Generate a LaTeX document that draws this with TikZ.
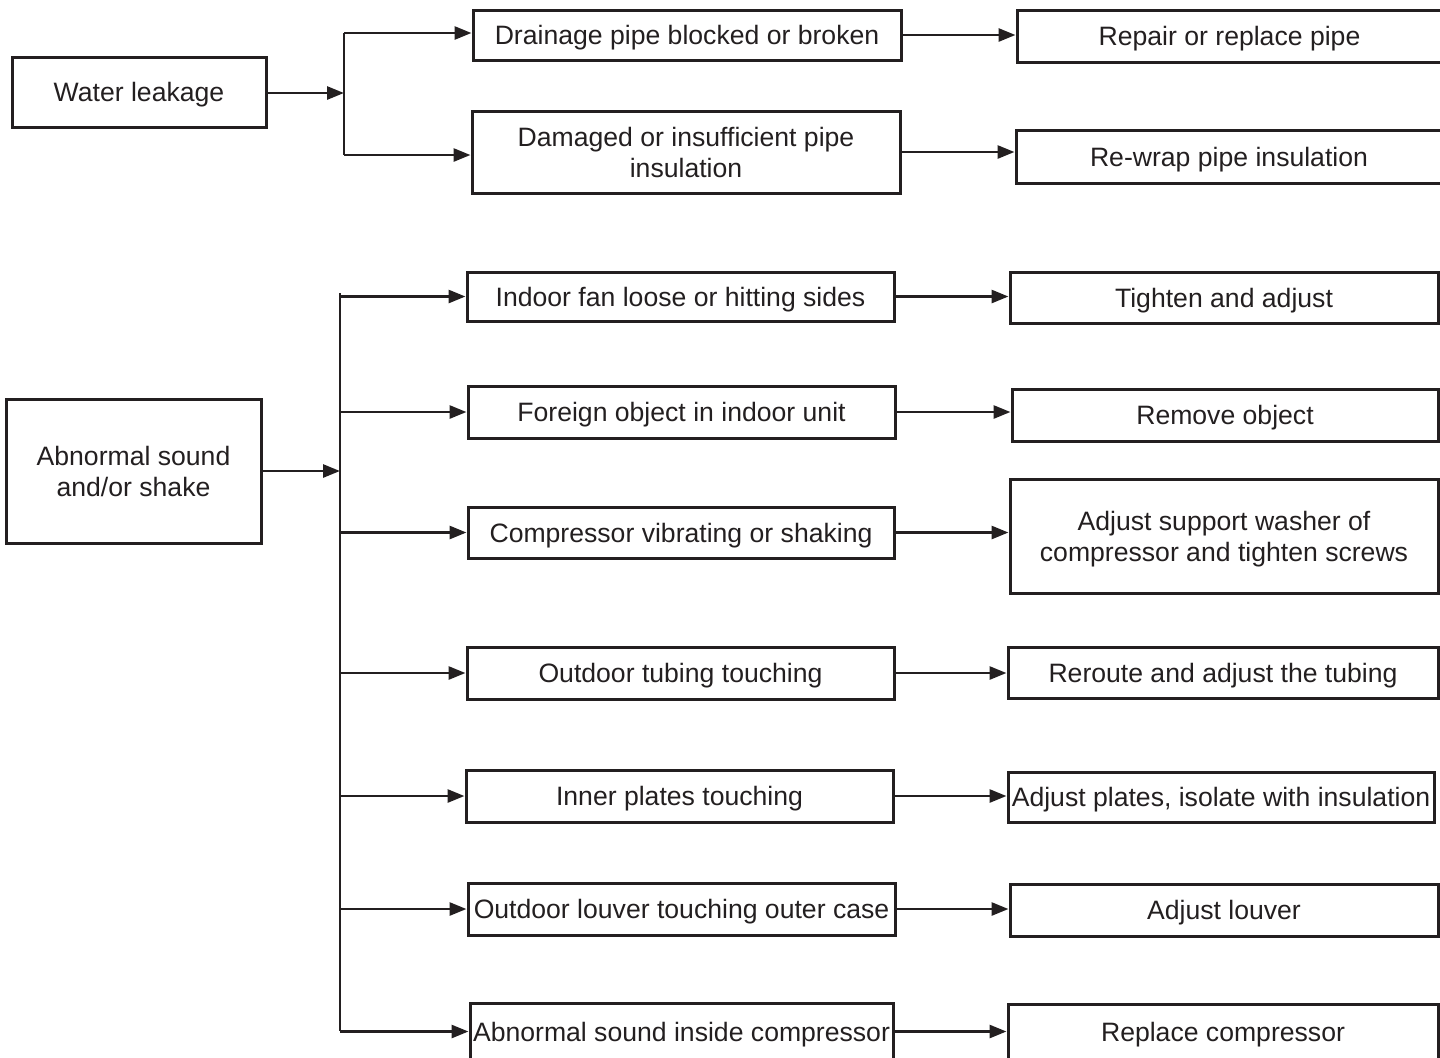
\documentclass[tikz,border=0pt]{standalone}
\usepackage{fontspec}
\setmainfont{Liberation Sans}
\usetikzlibrary{arrows.meta}
\definecolor{ink}{HTML}{231F20}
\begin{document}
\begin{tikzpicture}[x=0.5pt,y=-0.5pt,
  box/.style={draw=ink, line width=1.5pt, text=ink, inner sep=0pt, align=center,
    font=\fontsize{13.3pt}{15.5pt}\selectfont, minimum width=214pt, text depth=0pt},
  arr/.style={draw=ink, line width=1.4pt, -{Triangle[length=8.5pt,width=6.5pt]}},
  ln/.style={draw=ink, line width=1.4pt}]
\useasboundingbox (0,0) rectangle (1440,1057);
% Water leakage group
\node[box, minimum width=127pt, minimum height=35pt] (wl) at (139,92) {Water leakage};
\node[box, minimum height=25pt] (d1) at (687,35) {Drainage pipe blocked or broken};
\node[box, minimum height=41pt] (d2) at (686,152) {Damaged or insufficient pipe\\insulation};
\node[box, minimum width=212.5pt, minimum height=26pt] (r1) at (1229.5,36) {Repair or replace pipe};
\node[box, minimum width=213pt, minimum height=26.5pt] (r2) at (1229,156.5) {Re-wrap pipe insulation};
\coordinate (b1) at (344,93);
\coordinate (b1t) at (344,33);
\coordinate (b1b) at (344,155);
\draw[arr] (wl.east |- b1) -- (b1);
\draw[ln] (b1t) -- (b1b);
\draw[arr] (b1t) -- (b1t -| d1.west);
\draw[arr] (b1b) -- (b1b -| d2.west);
\draw[arr] (d1.east) -- (d1.east -| r1.west);
\draw[arr] (d2.east) -- (d2.east -| r2.west);
% Abnormal sound group
\node[box, minimum width=127.5pt, minimum height=72pt] (as) at (133.5,471) {Abnormal sound\\and/or shake};
\node[box, minimum width=213.5pt, minimum height=24.5pt] (c1) at (680.5,296.5) {Indoor fan loose or hitting sides};
\node[box, minimum width=213.5pt, minimum height=26pt] (c2) at (681.5,412) {Foreign object in indoor unit};
\node[box, minimum width=213pt, minimum height=25.5pt] (c3) at (681,532.5) {Compressor vibrating or shaking};
\node[box, minimum width=213.5pt, minimum height=26pt] (c4) at (680.5,673) {Outdoor tubing touching};
\node[box, minimum width=213.5pt, minimum height=26pt] (c5) at (679.5,796) {Inner plates touching};
\node[box, minimum width=213.5pt, minimum height=26pt] (c6) at (681.5,909) {Outdoor louver touching outer case};
\node[box, minimum width=211.5pt, minimum height=28.5pt] (c7) at (681.5,1031.5) {Abnormal sound inside compressor};
\node[box, minimum width=214pt, minimum height=25.5pt] (s1) at (1224,297.5) {Tighten and adjust};
\node[box, minimum width=213pt, minimum height=26pt] (s2) at (1225,415) {Remove object};
\node[box, minimum width=214pt, minimum height=57pt] (s3) at (1224,536) {Adjust support washer of\\compressor and tighten screws};
\node[box, minimum width=215pt, minimum height=25.5pt] (s4) at (1223,672.5) {Reroute and adjust the tubing};
\node[box, minimum width=213pt, minimum height=25pt] (s5) at (1221,797) {Adjust plates, isolate with insulation};
\node[box, minimum width=214pt, minimum height=26pt] (s6) at (1224,910) {Adjust louver};
\node[box, minimum width=215pt, minimum height=28pt] (s7) at (1223,1032) {Replace compressor};
\coordinate (b2) at (340,471);
\coordinate (b2t) at (340,293);
\coordinate (b2b) at (340,1031);
\draw[arr] (as.east |- b2) -- (b2);
\draw[ln] (b2t) -- (b2b);
\foreach \i in {1,...,7}{
  \draw[arr] (b2 |- c\i.west) -- (c\i.west);
  \draw[arr] (c\i.east) -- (c\i.east -| s\i.west);
}
\end{tikzpicture}
\end{document}
